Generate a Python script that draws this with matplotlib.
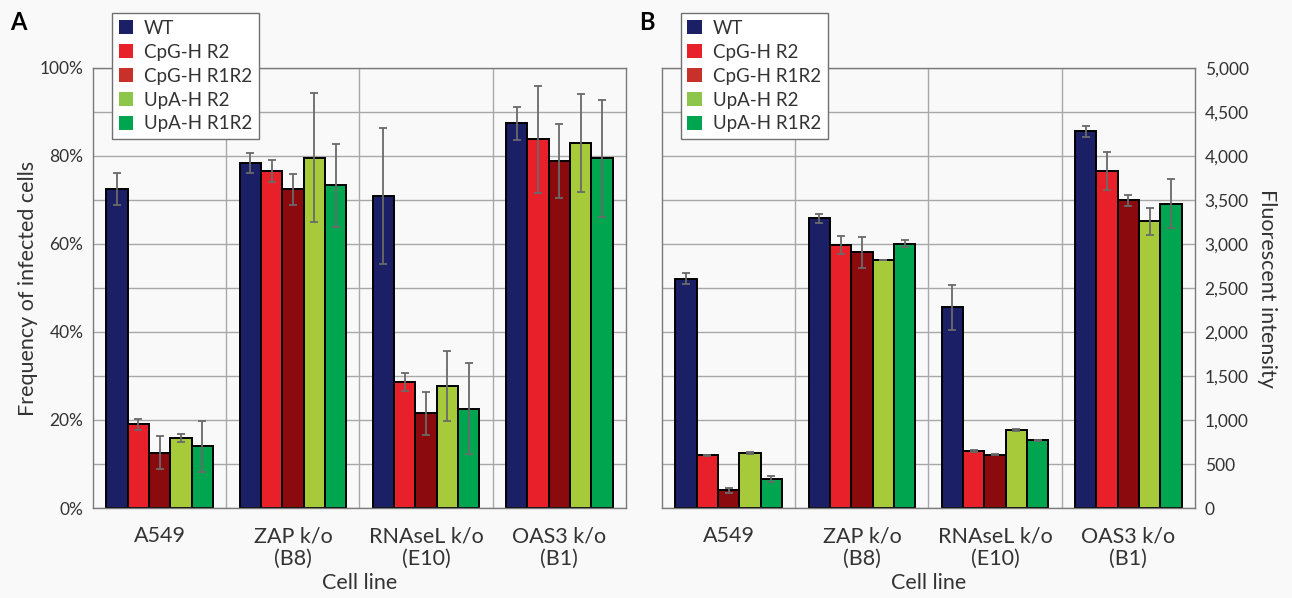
import matplotlib
matplotlib.use('Agg')
import matplotlib.pyplot as plt
import numpy as np
from matplotlib.patches import Patch
from matplotlib.ticker import PercentFormatter, FuncFormatter, MultipleLocator

cell_lines = ['A549', 'ZAP k/o\n(B8)', 'RNAseL k/o\n(E10)', 'OAS3 k/o\n(B1)']
series = ['WT', 'CpG-H R2', 'CpG-H R1R2', 'UpA-H R2', 'UpA-H R1R2']

# panel A: frequency of infected cells (%)
freq_wt = [72.5, 78.4, 70.9, 87.4]
freq_cpg_r2 = [19.0, 76.7, 28.6, 83.8]
freq_cpg_r1r2 = [12.6, 72.4, 21.5, 78.8]
freq_upa_r2 = [15.9, 79.6, 27.7, 83.0]
freq_upa_r1r2 = [14.0, 73.3, 22.6, 79.5]

freq_wt_err = [3.6, 2.2, 15.5, 3.8]
freq_cpg_r2_err = [1.3, 2.5, 2.0, 12.2]
freq_cpg_r1r2_err = [3.8, 3.5, 4.9, 8.4]
freq_upa_r2_err = [0.9, 14.7, 7.9, 11.2]
freq_upa_r1r2_err = [5.8, 9.5, 10.4, 13.3]

# panel B: fluorescent intensity
fl_wt = [2605, 3291, 2281, 4279]
fl_cpg_r2 = [599, 2986, 648, 3833]
fl_cpg_r1r2 = [202, 2906, 606, 3497]
fl_upa_r2 = [629, 2815, 885, 3257]
fl_upa_r1r2 = [332, 3005, 770, 3459]

fl_wt_err = [65, 48, 254, 63]
fl_cpg_r2_err = [5, 100, 10, 217]
fl_cpg_r1r2_err = [30, 175, 5, 65]
fl_upa_r2_err = [10, 0, 10, 157]
fl_upa_r1r2_err = [32, 38, 3, 277]

bar_colors = ['#1b1f66', '#e8202a', '#8b0a0e', '#a6ca3a', '#00a550']
legend_colors = ['#1b1f66', '#e8202a', '#c8302a', '#8cc64b', '#00a550']

bg = '#f9f9f9'
grid_c = '#a8a8a8'
plt.rcParams['font.family'] = ['Lato', 'DejaVu Sans']
plt.rcParams['font.size'] = 12

fig = plt.figure(figsize=(12.92, 5.98), dpi=100, facecolor=bg)
axA = fig.add_axes([0.072, 0.1505, 0.4125, 0.7358])
axB = fig.add_axes([0.5124, 0.1505, 0.4125, 0.7358])

x = np.arange(len(cell_lines))
w = 0.16


def draw_panel(ax, vals, errs):
    ax.set_facecolor(bg)
    for i, (v, e) in enumerate(zip(vals, errs)):
        pos = x + (i - 2) * w
        ax.bar(pos, v, width=w, color=bar_colors[i], edgecolor='black',
               linewidth=1.4, zorder=2)
        ax.errorbar(pos, v, yerr=e, fmt='none', ecolor='#6a6a6a',
                    elinewidth=1.3, capsize=3, capthick=1.3, zorder=3)
    ax.set_xlim(-0.5, len(cell_lines) - 0.5)
    ax.set_xticks(x)
    ax.set_xticks(np.arange(len(cell_lines) - 1) + 0.5, minor=True)
    ax.grid(True, which='both', color=grid_c, linewidth=1.0, zorder=0)
    ax.grid(False, which='major', axis='x')
    ax.set_axisbelow(True)
    ax.tick_params(which='both', length=0, pad=7, labelsize=12.5, colors='#333333')
    ax.set_xticklabels(cell_lines, fontsize=15.5, linespacing=1.2, color='#333333')
    ax.tick_params(axis='x', pad=13)
    for s in ax.spines.values():
        s.set_color('#7a7a7a')
        s.set_linewidth(1.0)
    ax.set_xlabel('Cell line', fontsize=15.5, color='#333333', labelpad=3)


draw_panel(axA,
           [freq_wt, freq_cpg_r2, freq_cpg_r1r2, freq_upa_r2, freq_upa_r1r2],
           [freq_wt_err, freq_cpg_r2_err, freq_cpg_r1r2_err, freq_upa_r2_err, freq_upa_r1r2_err])
axA.set_ylim(0, 100)
axA.yaxis.set_major_locator(MultipleLocator(20))
axA.yaxis.set_minor_locator(MultipleLocator(10))
axA.yaxis.set_major_formatter(PercentFormatter(xmax=100, decimals=0))
axA.set_ylabel('Frequency of infected cells', fontsize=15.5, color='#333333', labelpad=1)

draw_panel(axB,
           [fl_wt, fl_cpg_r2, fl_cpg_r1r2, fl_upa_r2, fl_upa_r1r2],
           [fl_wt_err, fl_cpg_r2_err, fl_cpg_r1r2_err, fl_upa_r2_err, fl_upa_r1r2_err])
axB.set_ylim(0, 5000)
axB.yaxis.set_major_locator(MultipleLocator(500))
axB.yaxis.set_major_formatter(FuncFormatter(lambda v, p: f'{v:,.0f}'))
axB.yaxis.tick_right()
axB.yaxis.set_label_position('right')
axB.set_ylabel('Fluorescent intensity', fontsize=15.5, color='#333333',
               rotation=-90, labelpad=20)

handles = [Patch(facecolor=c, edgecolor='none') for c in legend_colors]
for ax, lx in [(axA, 0.0867), (axB, 0.527)]:
    leg = fig.legend(handles, series, loc='upper left', bbox_to_anchor=(lx, 0.978),
                     fontsize=13.5, frameon=True, fancybox=False, framealpha=1,
                     handlelength=0.75, handleheight=0.75, handletextpad=0.6,
                     labelspacing=0.37, borderpad=0.35, borderaxespad=0)
    leg.get_frame().set_edgecolor('#707070')
    leg.get_frame().set_linewidth(1.0)
    leg.get_frame().set_facecolor('white')
    for t in leg.get_texts():
        t.set_color('#333333')
    leg.set_zorder(5)

fig.text(0.008, 0.963, 'A', fontsize=17, fontweight='bold', ha='left', va='center')
fig.text(0.495, 0.963, 'B', fontsize=17, fontweight='bold', ha='left', va='center')

fig.savefig('out.png', dpi=100, facecolor=bg)
